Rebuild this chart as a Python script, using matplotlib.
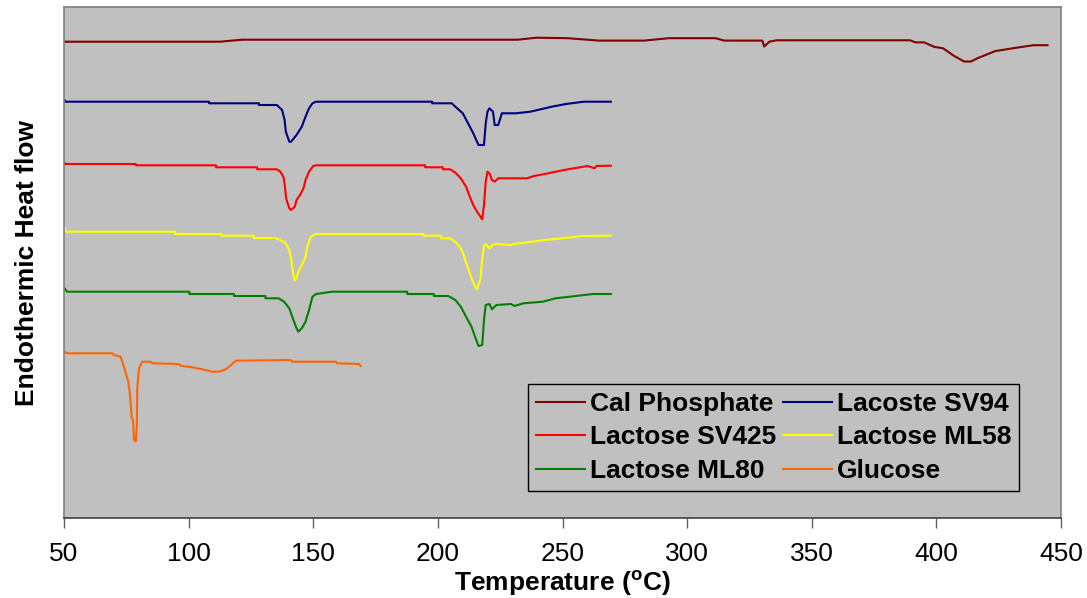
import matplotlib
matplotlib.use("Agg")
import matplotlib.pyplot as plt

# Temperature (°C) and heat-flow (arbitrary units)
cal_T = [50, 112.6, 121.3, 232.1, 239.6, 252.1, 264.6, 282.7, 292.6, 311.4, 314.9, 330.2,
         330.9, 333.0, 335.8, 389.5, 391.6, 395.1, 399.2, 402.7, 406.9, 411.1, 413.9,
         416.7, 423.6, 430.6, 439.0, 444.6]
cal_y = [476.3, 476.3, 478.3, 478.3, 480.3, 479.8, 477.4, 477.4, 479.8, 479.8, 477.4, 477.4,
         471.5, 476.3, 477.7, 477.7, 475.6, 475.6, 471.1, 469.7, 462.4, 456.5, 456.5,
         460.0, 466.9, 469.7, 472.8, 472.8]

sv94_T = [50.2, 50.5, 108.2, 108.2, 128.2, 128.2, 135.4, 137.5, 138.5, 139.0, 140.4, 141.1,
          143.3, 145.4, 146.9, 148.3, 149.7, 151.1, 197.7, 197.7, 205.6, 207.0, 210.0,
          212.1, 214.2, 216.3, 218.5, 219.2, 219.9, 220.7, 222.1, 222.8, 224.2, 225.7,
          231.3, 237.1, 240.0, 245.7, 251.4, 258.6, 269.4]
sv94_y = [418.0, 416.3, 416.3, 414.7, 414.7, 413.0, 413.0, 408.0, 398.0, 386.3, 376.3, 376.3,
          383.0, 391.3, 401.3, 409.7, 414.7, 416.3, 416.3, 414.7, 414.7, 411.3, 404.7,
          394.7, 384.7, 373.0, 373.0, 394.7, 406.3, 409.7, 406.3, 393.0, 393.0, 404.7,
          404.7, 406.3, 408.0, 411.3, 414.0, 416.3, 416.3]

sv425_T = [50.2, 50.5, 78.8, 78.8, 111.0, 111.0, 127.5, 127.5, 135.4, 136.8, 138.0, 138.5,
           139.1, 140.4, 141.1, 142.6, 143.3, 144.7, 146.1, 146.9, 148.3, 150.0, 151.1,
           194.9, 194.9, 202.0, 202.0, 204.9, 207.0, 209.2, 211.3, 212.8, 214.2, 215.7,
           217.1, 217.8, 218.5, 219.2, 219.9, 220.7, 221.7, 222.8, 224.2, 235.7, 238.6,
           242.9, 247.2, 252.2, 260.1, 262.9, 263.6, 269.4]
sv425_y = [355.3, 354.0, 354.0, 352.7, 352.7, 350.7, 350.7, 348.7, 348.7, 346.3, 341.3, 334.7,
           319.7, 309.7, 308.0, 311.3, 318.0, 323.0, 329.7, 338.0, 346.3, 352.0, 352.7,
           352.7, 350.7, 350.7, 348.7, 348.7, 345.3, 339.7, 331.3, 321.3, 313.0, 306.3,
           301.3, 298.7, 313.0, 336.3, 346.3, 344.7, 338.0, 336.3, 339.7, 339.7, 342.0,
           344.0, 346.3, 348.7, 352.0, 349.7, 352.0, 352.3]

ml58_T = [50.2, 50.8, 94.6, 94.6, 113.2, 113.2, 126.1, 126.1, 134.7, 136.8, 139.0, 140.4,
          141.1, 141.8, 142.6, 143.3, 144.0, 145.4, 146.9, 147.6, 149.0, 151.1, 194.2,
          194.2, 201.3, 201.3, 204.9, 207.0, 209.2, 210.6, 212.1, 213.5, 214.9, 215.7,
          217.1, 217.8, 218.5, 219.2, 220.7, 222.1, 223.5, 229.3, 230.7, 237.8, 242.9,
          248.6, 257.9, 269.4]
ml58_y = [290.7, 286.3, 286.3, 284.0, 284.0, 282.3, 282.3, 280.0, 280.0, 278.0, 274.7, 268.0,
          259.7, 246.3, 237.3, 239.7, 246.3, 253.0, 261.3, 271.3, 281.3, 284.0, 284.0,
          282.3, 282.3, 279.7, 279.7, 276.3, 269.7, 261.3, 249.7, 239.7, 231.3, 228.7,
          239.7, 259.7, 271.3, 274.0, 269.7, 273.0, 274.0, 273.0, 274.0, 276.3, 278.0,
          279.3, 282.0, 282.3]

ml80_T = [50.2, 51.2, 100.3, 100.3, 118.2, 118.2, 130.8, 130.8, 136.1, 138.3, 140.4, 141.8,
          143.3, 144.0, 145.4, 146.9, 148.3, 149.7, 151.1, 157.6, 187.7, 187.7, 198.4,
          198.4, 204.2, 207.0, 209.2, 211.3, 213.5, 214.9, 216.3, 217.8, 218.5, 219.2,
          220.7, 221.7, 223.5, 229.3, 230.7, 234.3, 242.1, 247.2, 252.9, 262.2, 269.4]
ml80_y = [229.7, 226.3, 226.3, 224.0, 224.0, 222.0, 222.0, 219.7, 219.7, 216.3, 209.7, 199.7,
          189.7, 186.3, 189.7, 196.3, 208.0, 221.3, 224.0, 226.3, 226.3, 224.0, 224.0,
          222.0, 222.0, 218.0, 211.3, 201.3, 191.3, 181.3, 172.0, 173.0, 198.0, 213.0,
          214.0, 208.7, 213.0, 214.0, 212.0, 214.7, 216.3, 219.7, 221.3, 224.0, 224.0]

glu_T = [50.0, 51.3, 69.4, 70.1, 72.7, 73.4, 74.8, 75.8, 76.4, 77.2, 77.7, 78.1, 78.8, 79.2,
         79.4, 80.1, 81.4, 84.8, 85.4, 96.1, 96.8, 101.5, 105.5, 109.5, 112.2, 114.9, 117.5,
         118.9, 140.9, 141.6, 159.0, 159.7, 168.4, 169.0]
glu_y = [166.3, 164.7, 164.7, 163.0, 161.3, 156.3, 144.7, 136.3, 124.7, 99.7, 98.0, 78.0,
         76.3, 91.3, 129.7, 149.7, 156.3, 156.3, 154.7, 154.0, 152.3, 150.7, 148.7, 146.3,
         146.3, 148.7, 154.0, 157.3, 158.0, 156.3, 156.3, 154.7, 154.0, 152.0]

series = [
    ("Cal Phosphate", cal_T, cal_y, "#800000"),
    ("Lacoste SV94", sv94_T, sv94_y, "#000080"),
    ("Lactose SV425", sv425_T, sv425_y, "#FF0000"),
    ("Lactose ML58", ml58_T, ml58_y, "#FFFF00"),
    ("Lactose ML80", ml80_T, ml80_y, "#008000"),
    ("Glucose", glu_T, glu_y, "#FF6600"),
]

x_ticks = [50, 100, 150, 200, 250, 300, 350, 400, 450]

plt.rcParams['font.family'] = ['Liberation Sans', 'DejaVu Sans']

fig = plt.figure(figsize=(10.87, 5.98), dpi=100)
ax = fig.add_axes([64/1087, 80/598, (1061-64)/1087, (518-7.3)/598])
ax.set_facecolor("#C0C0C0")

handles = []
for name, T, y, c in series:
    h, = ax.plot(T, y, color=c, lw=1.5, label=name)
    handles.append(h)

ax.set_xlim(50, 450)
ax.set_ylim(0, 510.7)
ax.set_xticks(x_ticks)
ax.set_xticklabels([str(t) for t in x_ticks], fontsize=19)
ax.set_yticks([])
ax.tick_params(axis='x', direction='out', length=7, width=1, color='#606060', pad=10)

for s in ['left', 'top', 'right']:
    ax.spines[s].set_color('#808080')
    ax.spines[s].set_linewidth(1.2)
ax.spines['bottom'].set_color('#404040')
ax.spines['bottom'].set_linewidth(1.2)

ax.set_xlabel(r'Temperature ($^{\mathregular{o}}$C)', fontsize=19, fontweight='bold', labelpad=2)
ax.set_ylabel('Endothermic Heat flow', fontsize=19, fontweight='bold', labelpad=18)

# row-wise order like the reference legend
order = [0, 2, 4, 1, 3, 5]
leg = ax.legend([handles[i] for i in order], [series[i][0] for i in order],
                ncol=2, loc='upper left', bbox_to_anchor=((528-64)/997, (518-384)/510.7),
                borderaxespad=0, frameon=True, fancybox=False, framealpha=1,
                facecolor='#C0C0C0', edgecolor='black', prop={'weight': 'bold', 'size': 19},
                handlelength=1.85, handletextpad=0.2, columnspacing=0.25, labelspacing=0.36,
                borderpad=0.3)
leg.get_frame().set_linewidth(1.0)

fig.savefig("out.png", dpi=100, facecolor='white')
